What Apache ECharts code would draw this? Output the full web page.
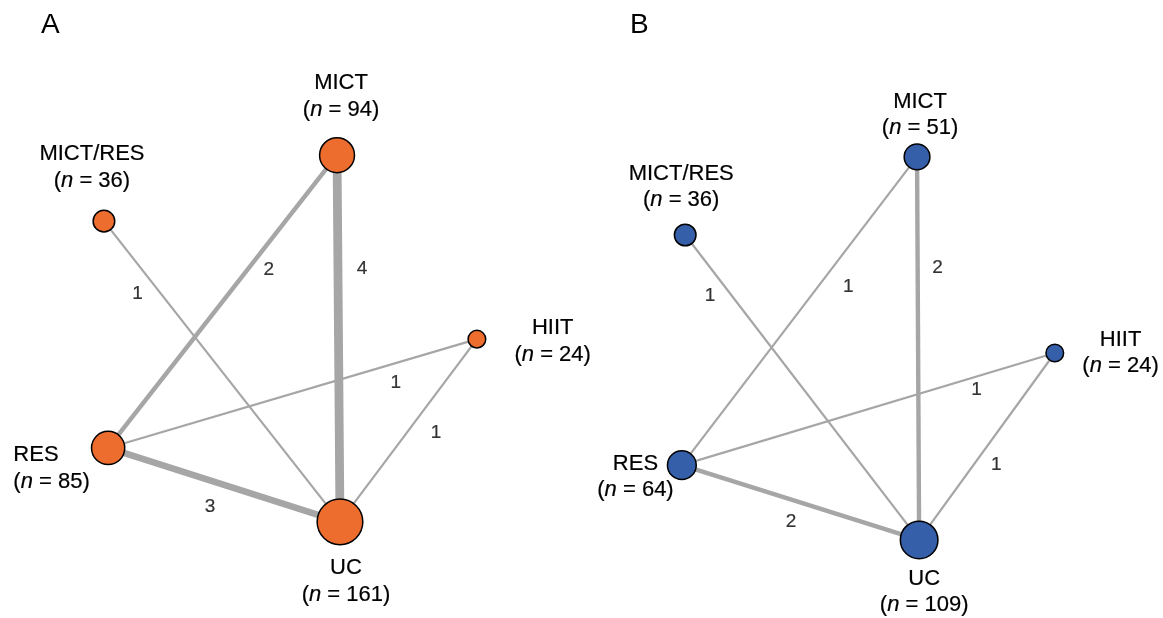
<!DOCTYPE html>
<html><head><meta charset="utf-8">
<script src="https://cdn.jsdelivr.net/npm/echarts@6/dist/echarts.min.js"></script>
<style>html,body{margin:0;padding:0;background:#fff}#c{width:1163px;height:618px}</style>
</head><body><div id="c"></div>
<script>
// ---- data ----
const treatments = ['MICT', 'MICT/RES', 'HIIT', 'RES', 'UC'];
const participantsA = [94, 36, 24, 85, 161];
const participantsB = [51, 36, 24, 64, 109];
// network layout positions (abstract units, 0-10)
const layoutAx = [6.12, 0.57, 9.45, 0.67, 6.19];
const layoutAy = [9.40, 7.83, 5.02, 2.43, 0.67];
const layoutBx = [6.12, 0.60, 9.40, 0.52, 6.17];
const layoutBy = [9.36, 7.50, 4.69, 2.02, 0.24];
const comparisons = [['MICT/RES', 'UC'], ['MICT', 'RES'], ['MICT', 'UC'], ['RES', 'HIIT'], ['HIIT', 'UC'], ['RES', 'UC']];
const studiesA = [1, 2, 4, 1, 1, 3];
const studiesB = [1, 1, 2, 1, 1, 2];
const panelLabels = ['A', 'B'];

// ---- styles ----
const FONT = '"Liberation Sans", Arial, sans-serif';
const TXT = {fontFamily: FONT, color: '#000', textBorderColor: '#000', textBorderWidth: 0.2};
const nodeLabelStyleA = {
  'MICT': {position: 'top', distance: 14, offset: [4, 0], align: 'center'},
  'MICT/RES': {position: 'top', distance: 15, offset: [-12, 0], align: 'center'},
  'HIIT': {position: 'right', distance: 28, offset: [0, 2], align: 'center'},
  'RES': {position: 'left', distance: 1, offset: [0, 20], align: 'left'},
  'UC': {position: 'bottom', distance: 9, offset: [6, 0], align: 'center'}
};
const nodeLabelStyleB = {
  'MICT': {position: 'top', distance: 2, offset: [3, 0], align: 'center'},
  'MICT/RES': {position: 'top', distance: 11, offset: [-4, 0], align: 'center'},
  'HIIT': {position: 'right', distance: 18, offset: [0, 0], align: 'center'},
  'RES': {position: 'left', distance: -7, offset: [0, 12], align: 'center'},
  'UC': {position: 'bottom', distance: 6, offset: [5, 0], align: 'center'}
};
// edge label placement: fraction along edge from source, pixel offset
const edgeLabelStyleA = [[0.24, [-23, 0]], [0.39, [21, 0]], [0.31, [24, 0]], [0.78, [0, 20]], [0.51, [29, 0]], [0.44, [0, 26]]];
const edgeLabelStyleB = [[0.20, [-22, 0]], [0.42, [30, 0]], [0.29, [20, 0]], [0.79, [0, 13]], [0.60, [23, 0]], [0.46, [0, 22]]];

function buildPanel(idx, n, lx, ly, studies, color, nodeStyles, edgeStyles, lineH) {
  const nodes = treatments.map((t, i) => {
    const s = nodeStyles[t];
    const base = Object.assign({fontSize: 22, lineHeight: lineH, align: s.align}, TXT);
    return {
      name: t,
      value: [lx[i], ly[i]],
      symbolSize: 3.6 * Math.sqrt(n[i]),
      label: {
        show: true, position: s.position, distance: s.distance, offset: s.offset,
        formatter: '{t|' + t + '}\n{p|(}{i|n}{p| = ' + n[i] + ')}',
        rich: {
          t: base,
          p: base,
          i: Object.assign({fontStyle: 'italic'}, base)
        }
      }
    };
  });
  const links = comparisons.map((c, k) => ({
    source: c[0], target: c[1],
    lineStyle: {width: 2.2 * studies[k], color: '#a6a6a6', opacity: 1, curveness: 0}
  }));
  const edgeLabelPts = comparisons.map((c, k) => {
    const a = treatments.indexOf(c[0]), b = treatments.indexOf(c[1]);
    const f = edgeStyles[k][0];
    return {
      value: [lx[a] + f * (lx[b] - lx[a]), ly[a] + f * (ly[b] - ly[a])],
      label: {
        show: true, position: 'inside', offset: edgeStyles[k][1],
        formatter: '{d|' + studies[k] + '}',
        rich: {d: Object.assign({fontSize: 19}, TXT)}
      }
    };
  });
  return [
    {
      type: 'graph', coordinateSystem: 'cartesian2d', xAxisIndex: idx, yAxisIndex: idx,
      layout: 'none', roam: false, symbol: 'circle', z: 3,
      itemStyle: {color: color, borderColor: '#000', borderWidth: 1.5},
      emphasis: {disabled: true},
      data: nodes, links: links,
      edgeSymbol: ['none', 'none']
    },
    {
      type: 'scatter', xAxisIndex: idx, yAxisIndex: idx, symbolSize: 1, z: 4,
      silent: true, itemStyle: {color: 'rgba(0,0,0,0)'},
      data: edgeLabelPts
    }
  ];
}

const chart = echarts.init(document.getElementById('c'), null, {renderer: 'canvas'});
const axisX = (gi) => ({type: 'value', gridIndex: gi, min: 0, max: 10, show: false});
const titleStyle = {fontSize: 28, fontWeight: 'normal', fontFamily: FONT, color: '#000'};
chart.setOption({
  animation: false,
  backgroundColor: '#fff',
  title: [
    {text: panelLabels[0], left: 36, top: 6, textStyle: titleStyle},
    {text: panelLabels[1], left: 625, top: 6, textStyle: titleStyle}
  ],
  grid: [
    {left: 80, top: 130, width: 420, height: 420},
    {left: 660, top: 130, width: 420, height: 420}
  ],
  xAxis: [axisX(0), axisX(1)],
  yAxis: [axisX(0), axisX(1)],
  series: [
    ...buildPanel(0, participantsA, layoutAx, layoutAy, studiesA, '#ED6D2E', nodeLabelStyleA, edgeLabelStyleA, 27),
    ...buildPanel(1, participantsB, layoutBx, layoutBy, studiesB, '#355FA9', nodeLabelStyleB, edgeLabelStyleB, 26)
  ]
});
</script></body></html>
